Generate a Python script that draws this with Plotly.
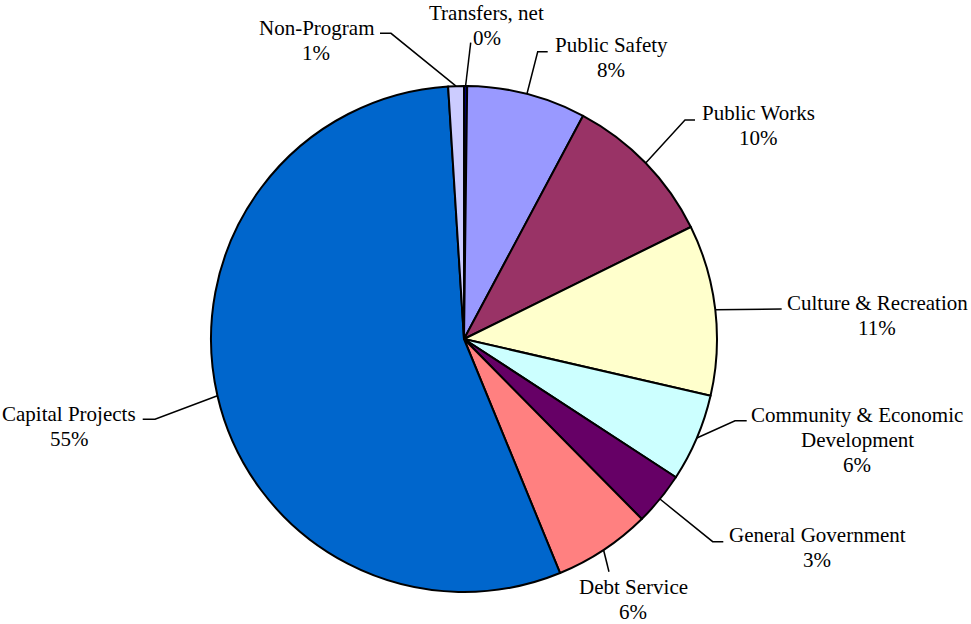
import math
import plotly.graph_objects as go

# ---- data ----
categories = ["Transfers, net", "Public Safety", "Public Works", "Culture & Recreation",
              "Community & Economic Development", "General Government", "Debt Service",
              "Capital Projects", "Non-Program"]
label_lines = [["Transfers, net"], ["Public Safety"], ["Public Works"], ["Culture & Recreation"],
               ["Community & Economic", "Development"], ["General Government"], ["Debt Service"],
               ["Capital Projects"], ["Non-Program"]]
values = [0.2, 7.6, 9.9, 10.9, 5.6, 3.4, 6.2, 55.2, 1.0]
colors = ["#000080", "#9999FF", "#993366", "#FFFFCC", "#CCFFFF",
          "#660066", "#FF8080", "#0066CC", "#CCCCFF"]

# ---- layout (screen pixels) ----
W, H = 971, 624
CX, CY, R = 464, 339, 253
FONT = "Liberation Serif"
FS = 21
LINE_GAP = 25
# centre of first text line of each label
label_pos = [(487, 13), (611, 45), (758, 113), (877, 303), (857, 415),
             (817, 535), (633, 587), (69, 414), (316, 28)]
# leader line bend and end points
leader_bend = [(470.7, 42.7), (537.7, 51.7), (685, 120), (781.7, 309), (735, 420.7),
               (712.7, 541.7), (609, 571.7), (155, 419.3), (391, 33.3)]
leader_end = [(470.7, 42.7), (547.7, 51.7), (695, 120), (781.7, 309), (746.7, 420.7),
              (723.3, 541.7), (609, 571.7), (142.7, 419.3), (380, 33.3)]


def px(x):
    return x / W


def py(y):
    return 1 - y / H


total = sum(values)
fig = go.Figure(go.Pie(
    labels=categories, values=values, sort=False, direction="clockwise", rotation=0,
    marker=dict(colors=colors, line=dict(color="black", width=2)),
    textinfo="none", hoverinfo="label+percent", showlegend=False,
    domain=dict(x=[px(CX - R), px(CX + R)], y=[py(CY + R), py(CY - R)]),
))

annotations = []
shapes = []
cum = 0.0
for i, v in enumerate(values):
    mid = (cum + v / 2) / total * 2 * math.pi
    cum += v
    sx = CX + R * math.sin(mid)
    sy = CY - R * math.cos(mid)
    bx, by = leader_bend[i]
    ex, ey = leader_end[i]
    shapes.append(dict(type="path", xref="paper", yref="paper",
                       path=f"M {px(sx)} {py(sy)} L {px(bx)} {py(by)} L {px(ex)} {py(ey)}",
                       line=dict(color="black", width=1.5)))
    pct = f"{v / total * 100:.0f}%"
    lines = label_lines[i] + [pct]
    lx, ly = label_pos[i]
    for k, t in enumerate(lines):
        annotations.append(dict(text=t, x=px(lx), y=py(ly + k * LINE_GAP), xref="paper", yref="paper",
                                xanchor="center", yanchor="middle", showarrow=False,
                                font=dict(family=FONT, size=FS, color="black")))

fig.update_layout(width=W, height=H, margin=dict(l=0, r=0, t=0, b=0),
                  paper_bgcolor="white", plot_bgcolor="white",
                  annotations=annotations, shapes=shapes)
fig.write_html("out.html", config={"displayModeBar": False},
               post_script="document.body.style.margin='0';document.body.style.overflow='hidden';")
